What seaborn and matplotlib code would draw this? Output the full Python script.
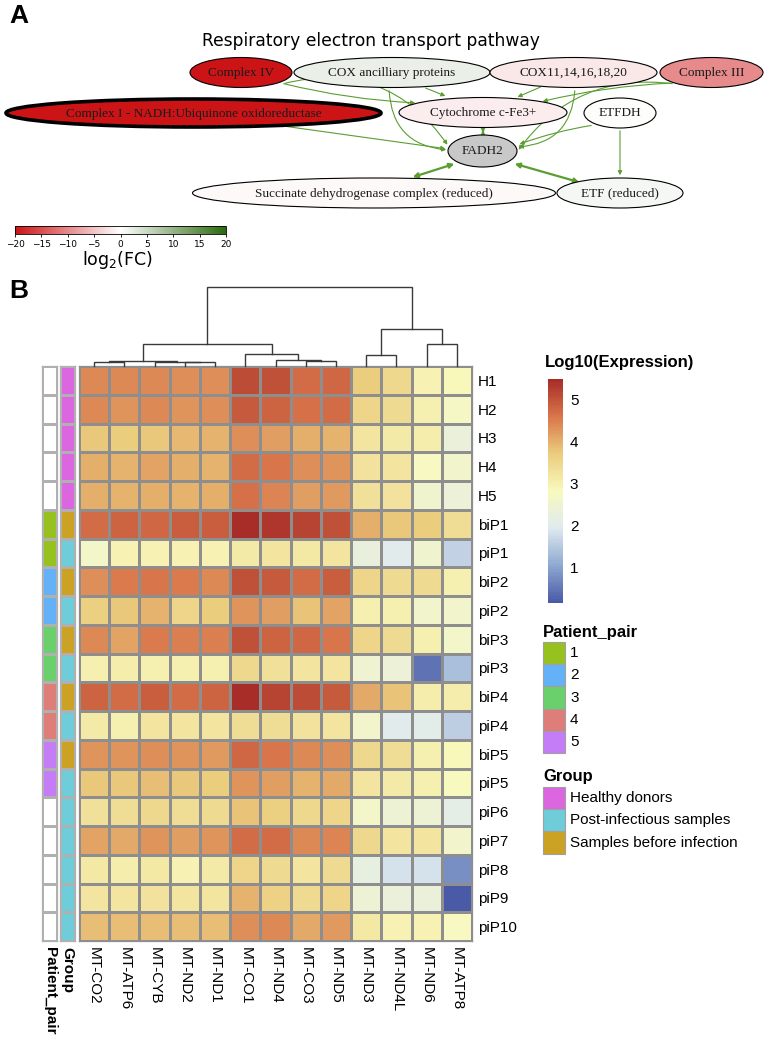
import numpy as np
import pandas as pd
import matplotlib
matplotlib.use("Agg")
import matplotlib.pyplot as plt
import seaborn as sns
from matplotlib.colors import LinearSegmentedColormap, ListedColormap, Normalize
from matplotlib.patches import Ellipse, FancyArrowPatch, Rectangle

# ---------------- DATA ----------------
samples = ["H1", "H2", "H3", "H4", "H5", "biP1", "piP1", "biP2", "piP2", "biP3",
           "piP3", "biP4", "piP4", "biP5", "piP5", "piP6", "piP7", "piP8", "piP9", "piP10"]
genes = ["MT-CO2", "MT-ATP6", "MT-CYB", "MT-ND2", "MT-ND1", "MT-CO1", "MT-ND4",
         "MT-CO3", "MT-ND5", "MT-ND3", "MT-ND4L", "MT-ND6", "MT-ATP8"]

mt_co2 = [4.4, 4.4, 3.75, 4.05, 4.05, 4.75, 2.65, 4.35, 3.65, 4.4, 3.0, 4.85, 3.1, 4.3, 3.75, 3.35, 4.15, 3.15, 3.2, 3.85]
mt_atp6 = [4.4, 4.3, 3.7, 4.0, 3.95, 4.85, 2.95, 4.55, 3.75, 4.15, 3.05, 4.75, 3.0, 4.3, 3.75, 3.4, 4.1, 3.05, 3.2, 3.85]
mt_cyb = [4.4, 4.4, 3.75, 4.15, 4.05, 4.8, 2.95, 4.6, 3.95, 4.55, 3.0, 4.9, 3.2, 4.35, 3.85, 3.5, 4.3, 3.15, 3.3, 3.85]
mt_nd2 = [4.35, 4.3, 3.9, 4.05, 3.95, 4.9, 2.95, 4.55, 3.55, 4.5, 3.0, 4.7, 3.2, 4.3, 3.75, 3.4, 4.2, 2.95, 3.25, 3.85]
mt_nd1 = [4.35, 4.35, 3.95, 4.0, 4.05, 4.9, 2.95, 4.4, 3.7, 4.5, 3.0, 4.85, 3.25, 4.25, 3.7, 3.45, 4.3, 3.1, 3.25, 3.85]
mt_co1 = [5.1, 4.95, 4.35, 4.75, 4.65, 5.45, 3.1, 5.05, 4.3, 5.05, 3.5, 5.5, 3.4, 4.8, 4.3, 3.8, 4.75, 3.55, 3.95, 4.35]
mt_nd4 = [5.05, 4.85, 4.2, 4.6, 4.45, 5.35, 3.25, 4.95, 4.2, 4.85, 3.35, 5.2, 3.4, 4.6, 4.2, 3.65, 4.7, 3.45, 3.6, 4.4]
mt_co3 = [4.7, 4.65, 4.05, 4.35, 4.2, 5.2, 3.15, 4.75, 3.8, 4.8, 3.25, 5.1, 3.3, 4.4, 3.95, 3.5, 4.4, 3.25, 3.45, 4.1]
mt_nd5 = [4.8, 4.7, 4.0, 4.3, 4.25, 5.05, 3.2, 4.9, 4.15, 4.6, 3.2, 4.95, 3.25, 4.35, 4.1, 3.55, 4.45, 3.45, 3.55, 4.25]
mt_nd3 = [3.7, 3.55, 3.25, 3.3, 3.35, 4.05, 2.25, 3.55, 3.0, 3.55, 2.5, 4.1, 2.6, 3.5, 3.2, 2.65, 3.5, 2.2, 2.4, 3.15]
mt_nd4l = [3.5, 3.45, 3.1, 3.2, 3.3, 3.75, 2.0, 3.45, 3.0, 3.45, 2.35, 3.8, 2.0, 3.4, 3.1, 2.4, 3.25, 1.85, 2.3, 2.95]
mt_nd6 = [2.95, 3.0, 3.05, 2.75, 2.55, 3.7, 2.55, 3.45, 2.6, 3.0, 0.45, 3.05, 2.05, 3.0, 3.0, 2.4, 3.25, 1.85, 2.3, 2.95]
mt_atp8 = [2.85, 2.7, 2.3, 2.6, 2.35, 3.4, 1.6, 3.0, 2.6, 2.65, 1.35, 3.05, 1.55, 2.85, 2.8, 2.1, 2.6, 0.75, 0.15, 2.75]

patient_pair = [0, 0, 0, 0, 0, 1, 1, 2, 2, 3, 3, 4, 4, 5, 5, 0, 0, 0, 0, 0]
group = ["Healthy donors"] * 5 + ["Samples before infection", "Post-infectious samples"] * 5 + \
        ["Post-infectious samples"] * 5
group_levels = ["Healthy donors", "Post-infectious samples", "Samples before infection"]
pair_levels = ["1", "2", "3", "4", "5"]

# column dendrogram merges: (left, right, height); leaves 0..12, new clusters 13+
dendro_merges = [
    (3, 4, 3.7), (0, 1, 4.0), (2, 13, 4.3), (14, 15, 5.3),
    (7, 8, 5.0), (6, 17, 6.0), (5, 18, 11.7), (16, 19, 21.7),
    (9, 10, 10.7), (11, 12, 22.0), (21, 22, 36.7), (20, 23, 79.3),
]

# pathway network (panel A)
node_names = ["Complex IV", "COX ancilliary proteins", "COX11,14,16,18,20", "Complex III",
              "Complex I - NADH:Ubiquinone oxidoreductase", "Cytochrome c-Fe3+", "ETFDH",
              "FADH2", "Succinate dehydrogenase complex (reduced)", "ETF (reduced)"]
node_fc = [-20, 2, -2, -10, -20, -1.5, 0.3, np.nan, -0.5, 1.0]
fc_ticks = [-20, -15, -10, -5, 0, 5, 10, 15, 20]

# ---------------- LAYOUT ----------------
W, H = 770, 1039
plt.rcParams['font.family'] = ['Liberation Sans', 'DejaVu Sans']
fig = plt.figure(figsize=(W / 100, H / 100), dpi=100)


def fax(x0, y0, x1, y1, **kw):
    return fig.add_axes([x0 / W, 1 - y1 / H, (x1 - x0) / W, (y1 - y0) / H], **kw)


over = fax(0, 0, W, H)
over.set_xlim(0, W)
over.set_ylim(H, 0)
over.axis("off")
over.patch.set_alpha(0)

over.text(9, 16, "A", fontsize=19, fontweight="bold", va="center", ha="left")
over.text(9, 291, "B", fontsize=19, fontweight="bold", va="center", ha="left")

# ---------------- PANEL A ----------------
fc_cmap = LinearSegmentedColormap.from_list("fc", ["#cc1417", "#ffffff", "#2d6a10"])
fc_norm = Normalize(-20, 20)

node_layout = {  # center x, center y, width, height
    "Complex IV": (241, 72.5, 102, 30),
    "COX ancilliary proteins": (392, 72.5, 196, 30),
    "COX11,14,16,18,20": (573.5, 72.5, 167, 30),
    "Complex III": (711.5, 72.5, 103, 30),
    "Complex I - NADH:Ubiquinone oxidoreductase": (193.5, 113, 375, 28),
    "Cytochrome c-Fe3+": (483, 112.5, 168, 30),
    "ETFDH": (620, 113, 72, 30),
    "FADH2": (482.5, 151, 69, 32),
    "Succinate dehydrogenase complex (reduced)": (374, 193, 363, 30),
    "ETF (reduced)": (620, 193, 126, 30),
}

edges = [  # start point, end point, curvature, bidirectional
    ((281, 83), (418, 103), 0.05, False),
    ((282, 84), (449, 147), -0.35, False),
    ((423, 87), (448, 97), 0.0, False),
    ((389, 88), (449, 150), 0.45, False),
    ((543, 86), (515, 98), 0.0, False),
    ((575, 88), (516, 147), -0.45, False),
    ((673, 83), (540, 102), 0.05, False),
    ((675, 84), (517, 152), 0.3, False),
    ((283, 126), (448, 149), 0.0, False),
    ((594, 125), (517, 145), 0.05, False),
    ((620, 128), (620, 178), 0.0, False),
    ((410, 178), (457, 163), 0.0, True),
    ((512, 163), (582, 183), 0.0, True),
    ((483, 127.5), (483, 135.5), 0.0, True),
]
for (p0, p1, rad, both) in edges:
    arr = FancyArrowPatch(p0, p1, connectionstyle=f"arc3,rad={rad}",
                          arrowstyle="<|-|>" if both else "-|>",
                          mutation_scale=6 if not both else 7,
                          lw=1.6 if both else 0.8, color="#5a9e32", zorder=1)
    over.add_patch(arr)

for name, fc in zip(node_names, node_fc):
    cx, cy, w, h = node_layout[name]
    face = "#c8c8c8" if np.isnan(fc) else fc_cmap(fc_norm(fc))
    lw = 2.6 if name.startswith("Complex I -") else 0.8
    over.add_patch(Ellipse((cx, cy), w, h, facecolor=face, edgecolor="black", lw=lw, zorder=2))
    over.text(cx, cy + 0.5, name, ha="center", va="center", fontsize=9.5,
              family=["Liberation Serif", "DejaVu Serif"], color="#1a1a1a", zorder=3)

over.text(371, 41, "Respiratory electron transport pathway", ha="center", va="center",
          fontsize=12.3, family=["DejaVu Sans"])

cax_a = fax(15, 225.5, 226, 234)
cb_a = fig.colorbar(plt.cm.ScalarMappable(norm=fc_norm, cmap=fc_cmap), cax=cax_a,
                    orientation="horizontal")
cb_a.set_ticks(fc_ticks)
cb_a.ax.tick_params(labelsize=6.5, length=2.5, width=0.6, pad=1.5)
for t in cb_a.ax.get_xticklabels():
    t.set_family("DejaVu Sans")
cb_a.outline.set_linewidth(0.6)
over.text(118, 260, r"log$_2$(FC)", fontsize=12.5, family="DejaVu Sans", ha="center", va="center")

# ---------------- PANEL B ----------------
df = pd.DataFrame({g: v for g, v in zip(genes, [mt_co2, mt_atp6, mt_cyb, mt_nd2, mt_nd1, mt_co1,
                                               mt_nd4, mt_co3, mt_nd5, mt_nd3, mt_nd4l, mt_nd6,
                                               mt_atp8])}, index=samples)
vmin, vmax = df.values.min(), df.values.max()
heat_cmap = LinearSegmentedColormap.from_list(
    "heat", ["#4a5aa6", "#8fa9d1", "#dfeaef", "#f9f9bd", "#ebcd7e", "#d9774b", "#a82d28"], N=100)

hx0, hx1, hy0, hy1 = 79, 472, 366, 941
ax = fax(hx0, hy0, hx1, hy1)
cax = fax(548, 379, 563, 603)
sns.heatmap(df, ax=ax, cmap=heat_cmap, vmin=vmin, vmax=vmax, linewidths=0.9,
            linecolor="#8e8e8e", cbar_ax=cax)
ax.yaxis.tick_right()
ax.set_yticklabels(samples, rotation=0, fontsize=11)
ax.set_xticklabels(genes, rotation=270, fontsize=11, va="top", ha="center")
ax.tick_params(axis="both", length=0, pad=4)
ax.set_xlabel("")
ax.set_ylabel("")
for s in ax.spines.values():
    s.set_visible(True)
    s.set_color("#8e8e8e")
    s.set_linewidth(0.9)

cax.tick_params(length=0, labelsize=11, pad=5)
cax.set_yticks([1, 2, 3, 4, 5])
cbar_obj = ax.collections[0].colorbar
if cbar_obj is not None:
    cbar_obj.outline.set_visible(False)
for s in cax.spines.values():
    s.set_visible(False)

# annotation columns
pair_colors = ["#ffffff", "#97c11f", "#63b1f7", "#6ad06c", "#df7d78", "#c47cf7"]
group_colors = ["#db66df", "#6ecdd8", "#cca224"]

ax_pp = fax(42, hy0, 57, hy1)
sns.heatmap(pd.DataFrame({"Patient_pair": patient_pair}, index=samples), ax=ax_pp,
            cmap=ListedColormap(pair_colors), vmin=-0.5, vmax=5.5, cbar=False,
            linewidths=0.9, linecolor="#b0b0b0")
ax_gr = fax(60, hy0, 75, hy1)
sns.heatmap(pd.DataFrame({"Group": [group_levels.index(g) for g in group]}, index=samples),
            ax=ax_gr, cmap=ListedColormap(group_colors), vmin=-0.5, vmax=2.5, cbar=False,
            linewidths=0.9, linecolor="#b0b0b0")
for a in (ax_pp, ax_gr):
    a.set_yticks([])
    a.set_ylabel("")
    a.set_xticklabels(a.get_xticklabels(), rotation=270, fontsize=11, fontweight="bold",
                      va="top", ha="center")
    a.tick_params(axis="x", length=0, pad=4)
    for s in a.spines.values():
        s.set_visible(True)
        s.set_color("#b0b0b0")
        s.set_linewidth(0.9)

# column dendrogram
ax_d = fax(hx0, 287, hx1, hy0)
n = len(genes)
pos = {i: (i + 0.5, 0.0) for i in range(n)}
for k, (a, b, h) in enumerate(dendro_merges):
    xa, ha_ = pos[a]
    xb, hb = pos[b]
    ax_d.plot([xa, xa, xb, xb], [ha_, h, h, hb], color="#3a3a3a", lw=1.0,
              solid_joinstyle="miter", clip_on=False)
    pos[n + k] = ((xa + xb) / 2, h)
ax_d.set_xlim(0, n)
ax_d.set_ylim(0, dendro_merges[-1][2])
ax_d.axis("off")

# legends
over.text(545, 363, "Log10(Expression)", fontsize=12, fontweight="bold", va="center", ha="left")
over.text(543, 632, "Patient_pair", fontsize=12, fontweight="bold", va="center", ha="left")
bh = 22.2
for i, lab in enumerate(pair_levels):
    y = 642 + i * bh
    over.add_patch(Rectangle((543, y), 22, bh, facecolor=pair_colors[i + 1], edgecolor="#a0a0a0", lw=0.8))
    over.text(570, y + bh / 2, lab, fontsize=11, va="center", ha="left")
over.text(543, 777, "Group", fontsize=12, fontweight="bold", va="center", ha="left")
for i, lab in enumerate(group_levels):
    y = 787 + i * bh
    over.add_patch(Rectangle((543, y), 22, bh, facecolor=group_colors[i], edgecolor="#a0a0a0", lw=0.8))
    over.text(570, y + bh / 2, lab, fontsize=11, va="center", ha="left")

fig.savefig("out.png", dpi=100)
